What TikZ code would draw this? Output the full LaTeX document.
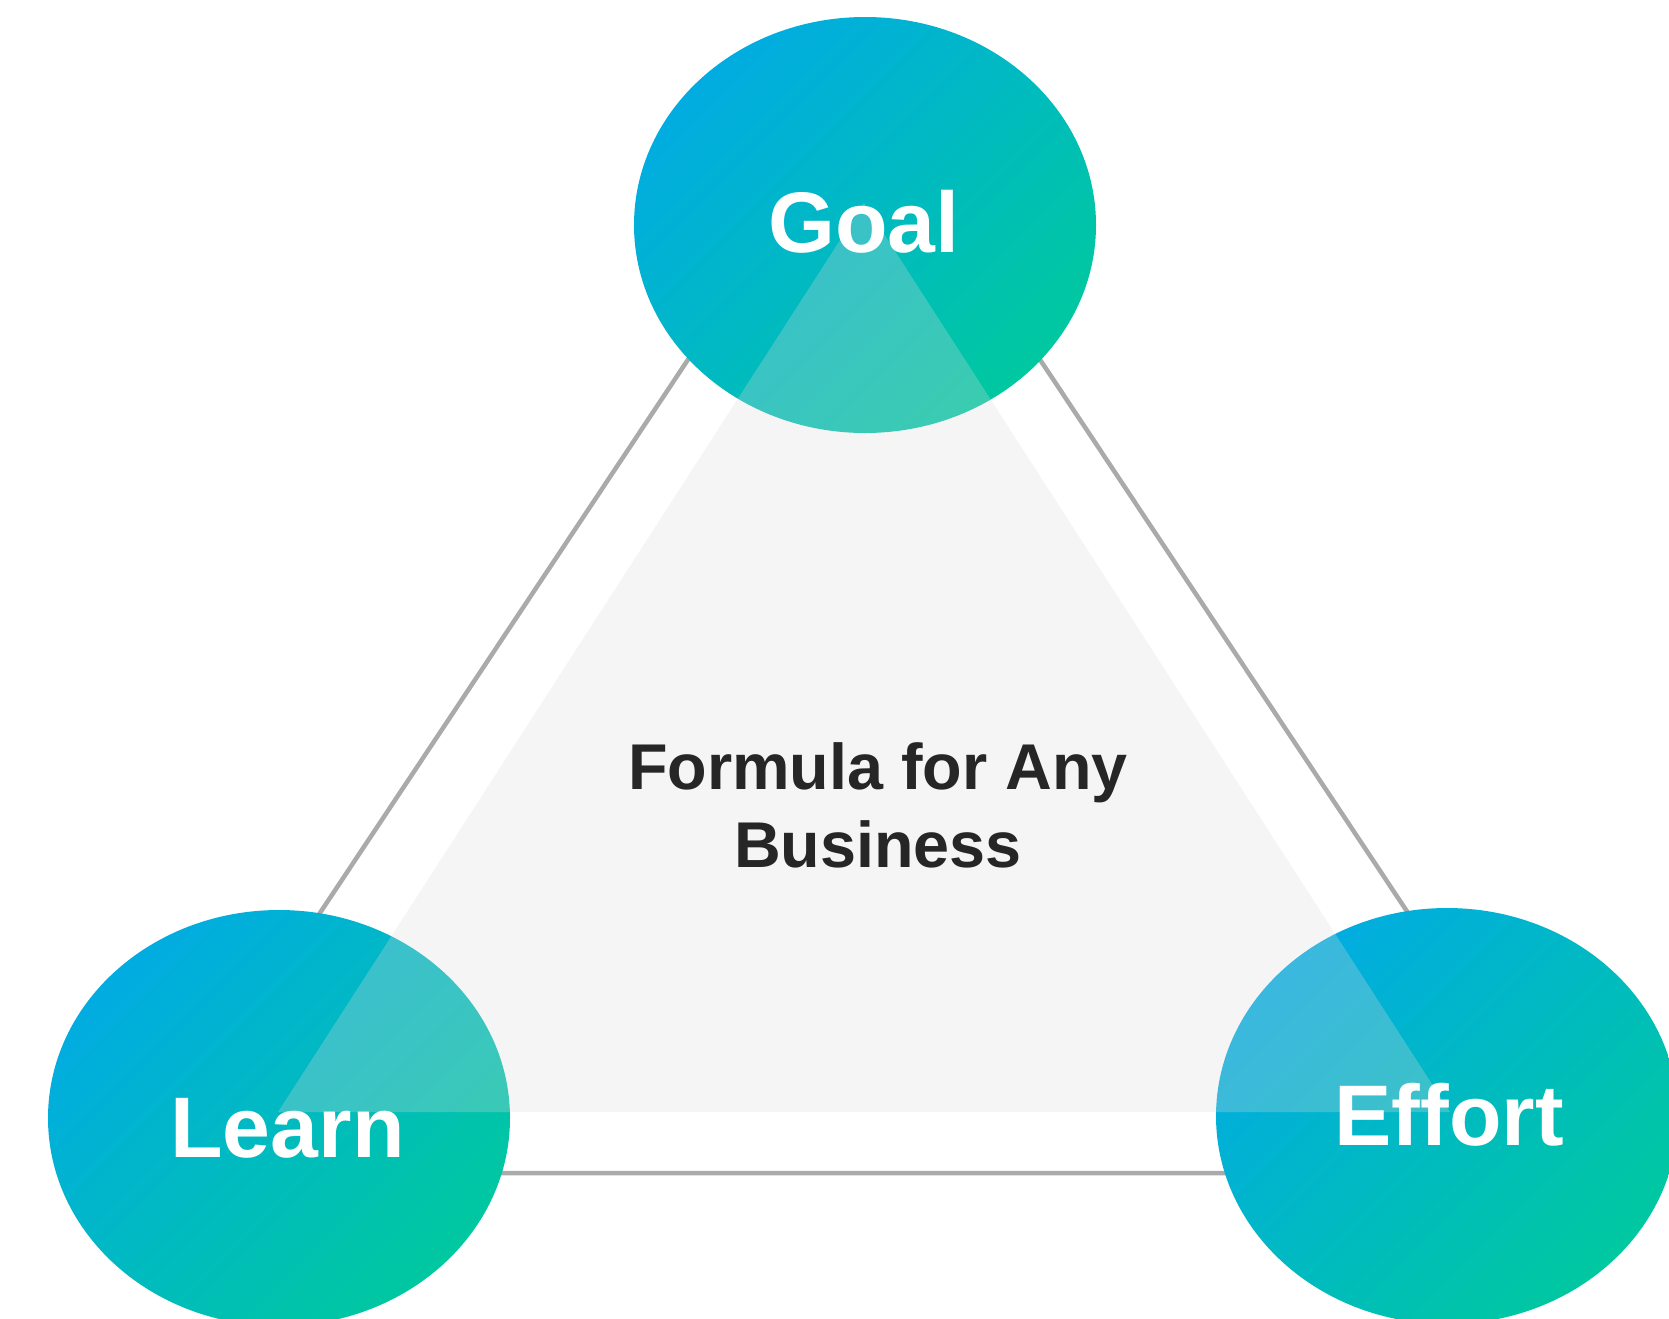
\documentclass[tikz,border=0pt]{standalone}
\usepackage{fontspec}
\setmainfont{Liberation Sans}
\usetikzlibrary{shapes.geometric}
\definecolor{gblue}{HTML}{01ACE1}
\definecolor{ggreen}{HTML}{00C8A0}
\definecolor{lineg}{HTML}{AAAAAA}
\definecolor{trifill}{HTML}{DADADA}
\definecolor{txtdark}{HTML}{262626}
\begin{document}
\begin{tikzpicture}[x=1pt,y=-1pt,
  bubble/.style={ellipse, minimum width=462pt, minimum height=416pt, inner sep=0pt,
    top color=gblue, bottom color=ggreen, shading angle=45, draw=none},
  bubbletext/.style={anchor=base, text=white, inner sep=0pt,
    font=\fontsize{86}{100}\selectfont\bfseries},
  outlineline/.style={draw=lineg, line width=4.5pt},
  tribg/.style={fill=trifill, fill opacity=0.27}]
\useasboundingbox (0,0) rectangle (1669,1318);
\clip (0,0) rectangle (1669,1318);
% outline triangle
\coordinate (oA) at (864,95);
\coordinate (oL) at (147,1173);
\coordinate (oR) at (1581,1173);
\draw[outlineline] (oA) -- (oL) -- (oR) -- cycle;
% bubbles
\node[bubble] (goal) at (865,225) {};
\node[bubble] (learn) at (279,1118) {};
\node[bubble] (effort) at (1447,1116) {};
% translucent inner triangle
\coordinate (tA) at (864,203);
\coordinate (tL) at (278,1112);
\coordinate (tR) at (1450,1112);
\fill[tribg] (tA) -- (tL) -- (tR) -- cycle;
% texts
\node[bubbletext] (goalt) at (864,252) {Goal};
\node[bubbletext] (learnt) at (287.5,1157) {Learn};
\node[bubbletext] (effortt) at (1449,1145) {Effort};
\node[align=center, text=txtdark, inner sep=0pt, anchor=base,
  font=\fontsize{64.7}{77.7}\selectfont\bfseries] (formula) at (878,867)
  {Formula for Any\\Business};
\end{tikzpicture}
\end{document}
